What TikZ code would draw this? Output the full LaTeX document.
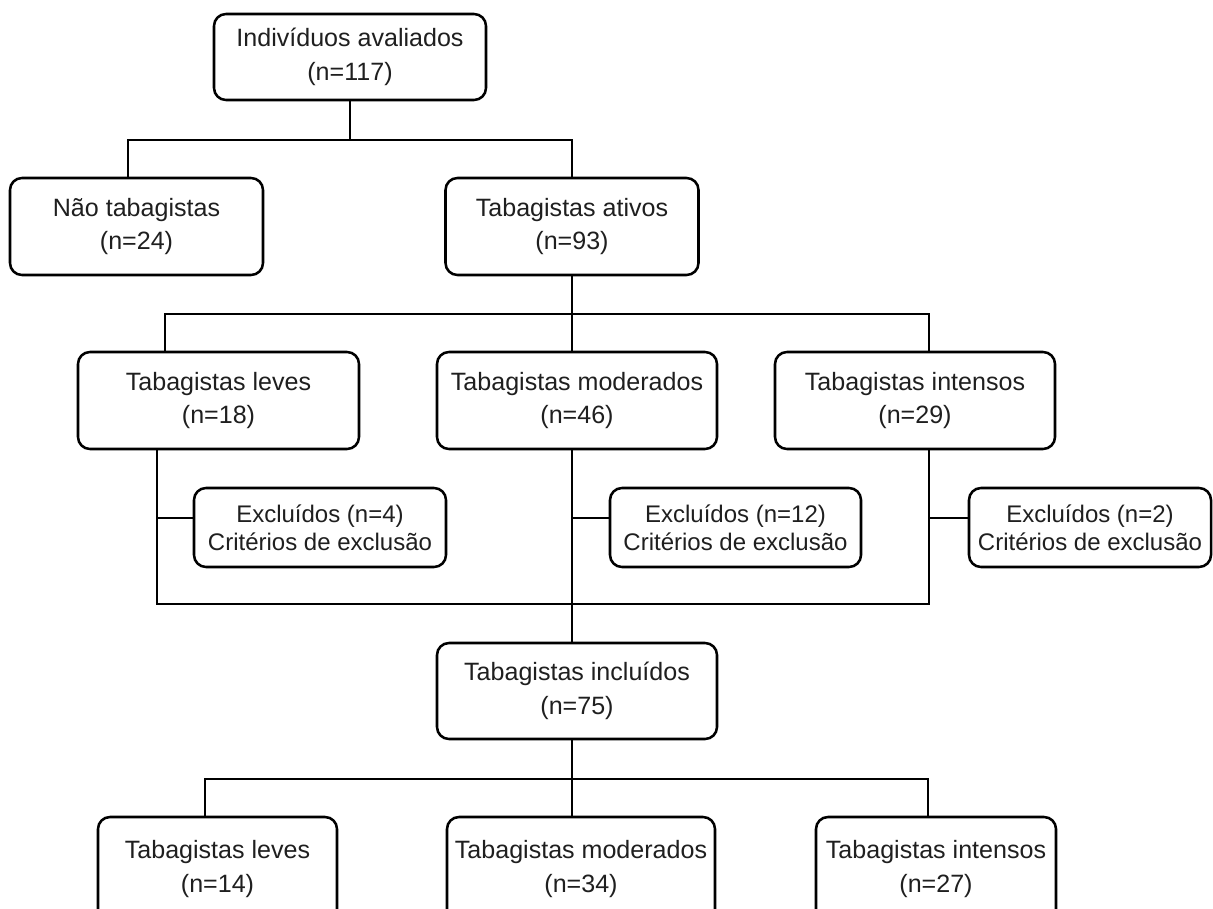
\documentclass[tikz,border=0pt]{standalone}
\usepackage{fontspec}
\setmainfont{Liberation Sans}
\begin{document}
\begin{tikzpicture}[x=0.75pt,y=-0.75pt,
  box/.style={draw=black, line width=1.9pt, rounded corners=9pt, rectangle,
    align=center, inner sep=0pt, text=black!88,
    font=\fontsize{18.8pt}{25pt}\selectfont},
  excbox/.style={box, font=\fontsize{18pt}{21pt}\selectfont},
  conn/.style={draw=black, line width=1.9pt}]
\useasboundingbox (0,0) rectangle (1213,909);
\clip (0,0) rectangle (1213,909);
\fill[white] (0,0) rectangle (1213,909);

% level 1
\node[box, minimum width=204pt, minimum height=64.5pt] (top) at (350,57)
  {Indivíduos avaliados\\(n=117)};
% level 2
\node[box, minimum width=189.75pt, minimum height=72.75pt] (non) at (136.5,226.5)
  {Não tabagistas\\(n=24)};
\node[box, minimum width=189.75pt, minimum height=72.75pt] (ativos) at (572,226.5)
  {Tabagistas ativos\\(n=93)};
% level 3
\node[box, minimum width=210.75pt, minimum height=72.75pt] (leves1) at (218.5,400.5)
  {Tabagistas leves\\(n=18)};
\node[box, minimum width=210pt, minimum height=72.75pt] (mod1) at (577,400.5)
  {Tabagistas moderados\\(n=46)};
\node[box, minimum width=210pt, minimum height=72.75pt] (int1) at (915,400.5)
  {Tabagistas intensos\\(n=29)};
% exclusions
\node[excbox, minimum width=189pt, minimum height=59.25pt] (exc1) at (320,527.5)
  {Excluídos (n=4)\\Critérios de exclusão};
\node[excbox, minimum width=188.25pt, minimum height=59.25pt] (exc2) at (735.5,527.5)
  {Excluídos (n=12)\\Critérios de exclusão};
\node[excbox, minimum width=181.5pt, minimum height=59.25pt] (exc3) at (1090,527.5)
  {Excluídos (n=2)\\Critérios de exclusão};
% included
\node[box, minimum width=210pt, minimum height=72pt] (incl) at (577,691)
  {Tabagistas incluídos\\(n=75)};
% bottom
\node[box, minimum width=179.25pt, minimum height=78pt] (leves2) at (217.5,869)
  {Tabagistas leves\\(n=14)};
\node[box, minimum width=201pt, minimum height=78pt] (mod2) at (581,869)
  {Tabagistas moderados\\(n=34)};
\node[box, minimum width=180pt, minimum height=78pt] (int2) at (936,869)
  {Tabagistas intensos\\(n=27)};

% junction coordinates
\coordinate (b1L) at (128,140);
\coordinate (b1R) at (572,140);
\coordinate (b2L) at (165,314);
\coordinate (b2M) at (572,314);
\coordinate (b2R) at (929,314);
\coordinate (b3L) at (157,604);
\coordinate (b3M) at (572,604);
\coordinate (b3R) at (929,604);
\coordinate (b4L) at (205,779);
\coordinate (b4M) at (572,779);
\coordinate (b4R) at (928,779);

% level 1 -> 2
\draw[conn] (top.south) -- (top.south |- b1L);
\draw[conn] (non.north -| b1L) -- (b1L) -- (b1R) -- (ativos.north);
% level 2 -> 3
\draw[conn] (ativos.south) -- (b2M);
\draw[conn] (leves1.north -| b2L) -- (b2L) -- (b2R) -- (int1.north -| b2R);
\draw[conn] (b2M) -- (mod1.north -| b2M);
% exclusion structure
\draw[conn] (leves1.south -| b3L) -- (b3L) -- (b3R) -- (int1.south -| b3R);
\draw[conn] (mod1.south -| b3M) -- (b3M) -- (incl.north -| b3M);
\draw[conn] ([yshift=7pt]exc1.west) -- ([yshift=7pt]exc1.west -| b3L);
\draw[conn] ([yshift=7pt]exc2.west) -- ([yshift=7pt]exc2.west -| b3M);
\draw[conn] ([yshift=7pt]exc3.west) -- ([yshift=7pt]exc3.west -| b3R);
% included -> bottom
\draw[conn] (incl.south -| b4M) -- (b4M);
\draw[conn] (leves2.north -| b4L) -- (b4L) -- (b4R) -- (int2.north -| b4R);
\draw[conn] (b4M) -- (mod2.north -| b4M);
\end{tikzpicture}
\end{document}
